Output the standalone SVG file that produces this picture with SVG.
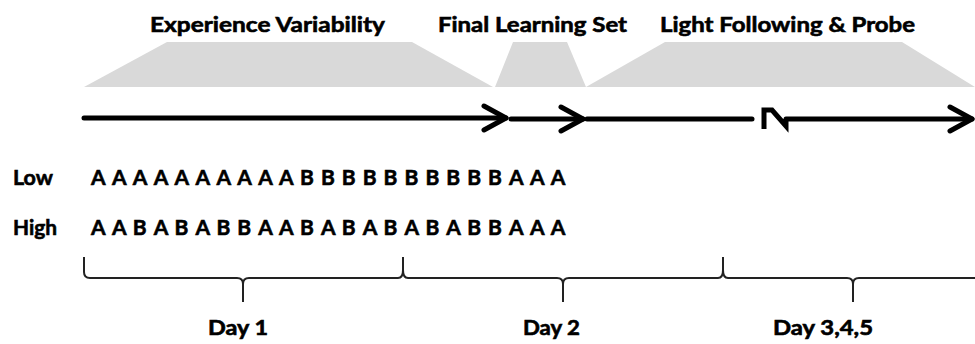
<svg xmlns="http://www.w3.org/2000/svg" width="975" height="344" viewBox="0 0 975 344">
  <style>
    .lbl { font-family: Lato, "Liberation Sans", sans-serif; font-weight: bold; fill: #000; stroke: #000; stroke-width: 0.6; }
    .head { font-size: 21px; }
    .row { font-size: 21px; }
    .day { font-size: 20px; }
    .band { fill: #d9d9d9; }
    .axis { fill: none; stroke: #000; stroke-width: 5; stroke-linecap: round; stroke-linejoin: round; }
    .brk { fill: none; stroke: #000; stroke-width: 5; stroke-linecap: butt; stroke-linejoin: miter; stroke-miterlimit: 10; }
    .brace { fill: none; stroke: #222; stroke-width: 2; }
  </style>
  <defs>
    <marker id="chev" viewBox="0 0 30 30" refX="26" refY="15" markerWidth="30" markerHeight="30" markerUnits="userSpaceOnUse" orient="auto">
      <path d="M4,3 L26,15 L4,27" fill="none" stroke="#000" stroke-width="5" stroke-linecap="round" stroke-linejoin="round"/>
    </marker>
  </defs>

  <!-- phase bands -->
  <g id="phase-variability">
    <polygon class="band" points="84,87 167,42 412,42 493,87"/>
    <text class="lbl head" x="150" y="32" textLength="235" lengthAdjust="spacingAndGlyphs">Experience Variability</text>
  </g>
  <g id="phase-final">
    <polygon class="band" points="495,87 513,42 567,42 586,87"/>
    <text class="lbl head" x="438" y="32" textLength="189" lengthAdjust="spacingAndGlyphs">Final Learning Set</text>
  </g>
  <g id="phase-light">
    <polygon class="band" points="586,87 665,42 902,42 975,87"/>
    <text class="lbl head" x="660" y="32" textLength="255" lengthAdjust="spacingAndGlyphs">Light Following &amp; Probe</text>
  </g>

  <!-- timeline arrows -->
  <g id="connectors">
    <path class="axis" d="M84,118 H506" marker-end="url(#chev)"/>
    <path class="axis" d="M511,119 H583" marker-end="url(#chev)"/>
    <path class="axis" d="M587,119 H752"/>
    <path class="brk" d="M764,129 V110 H772 L786,126 V119"/>
    <path class="axis" d="M786,119 H972" marker-end="url(#chev)"/>
  </g>

  <!-- condition sequences -->
  <g id="row-low">
    <text class="lbl row" x="13" y="185" textLength="40" lengthAdjust="spacingAndGlyphs">Low</text>
    <text class="lbl row" y="185" x="91 111.9 132.8 153.7 174.6 195.5 216.4 237.3 258.2 279.1 300 320.9 341.8 362.7 383.6 404.5 425.4 446.3 467.2 488.1 509 529.9 550.8">AAAAAAAAAABBBBBBBBBBAAA</text>
  </g>
  <g id="row-high">
    <text class="lbl row" x="13" y="235" textLength="44" lengthAdjust="spacingAndGlyphs">High</text>
    <text class="lbl row" y="235" x="91 111.9 132.8 153.7 174.6 195.5 216.4 237.3 258.2 279.1 300 320.9 341.8 362.7 383.6 404.5 425.4 446.3 467.2 488.1 509 529.9 550.8">AABABABBAABABABABABBAAA</text>
  </g>

  <!-- day braces -->
  <g id="days">
    <path class="brace" d="M84,257 V272 Q84,278 90,278 H237 Q243,278 243,284 V302 M243,284 Q243,278 249,278 H398 Q403,278 403,270 V257 M403,270 Q403,278 408,278 H557 Q563,278 563,284 V302 M563,284 Q563,278 569,278 H718 Q723,278 723,270 V257 M723,270 Q723,278 728,278 H847 Q853,278 853,284 V302 M853,284 Q853,278 859,278 H975"/>
    <text class="lbl day" x="208" y="335" textLength="60" lengthAdjust="spacingAndGlyphs">Day 1</text>
    <text class="lbl day" x="523" y="335" textLength="57" lengthAdjust="spacingAndGlyphs">Day 2</text>
    <text class="lbl day" x="773" y="335" textLength="100" lengthAdjust="spacingAndGlyphs">Day 3,4,5</text>
  </g>
</svg>
